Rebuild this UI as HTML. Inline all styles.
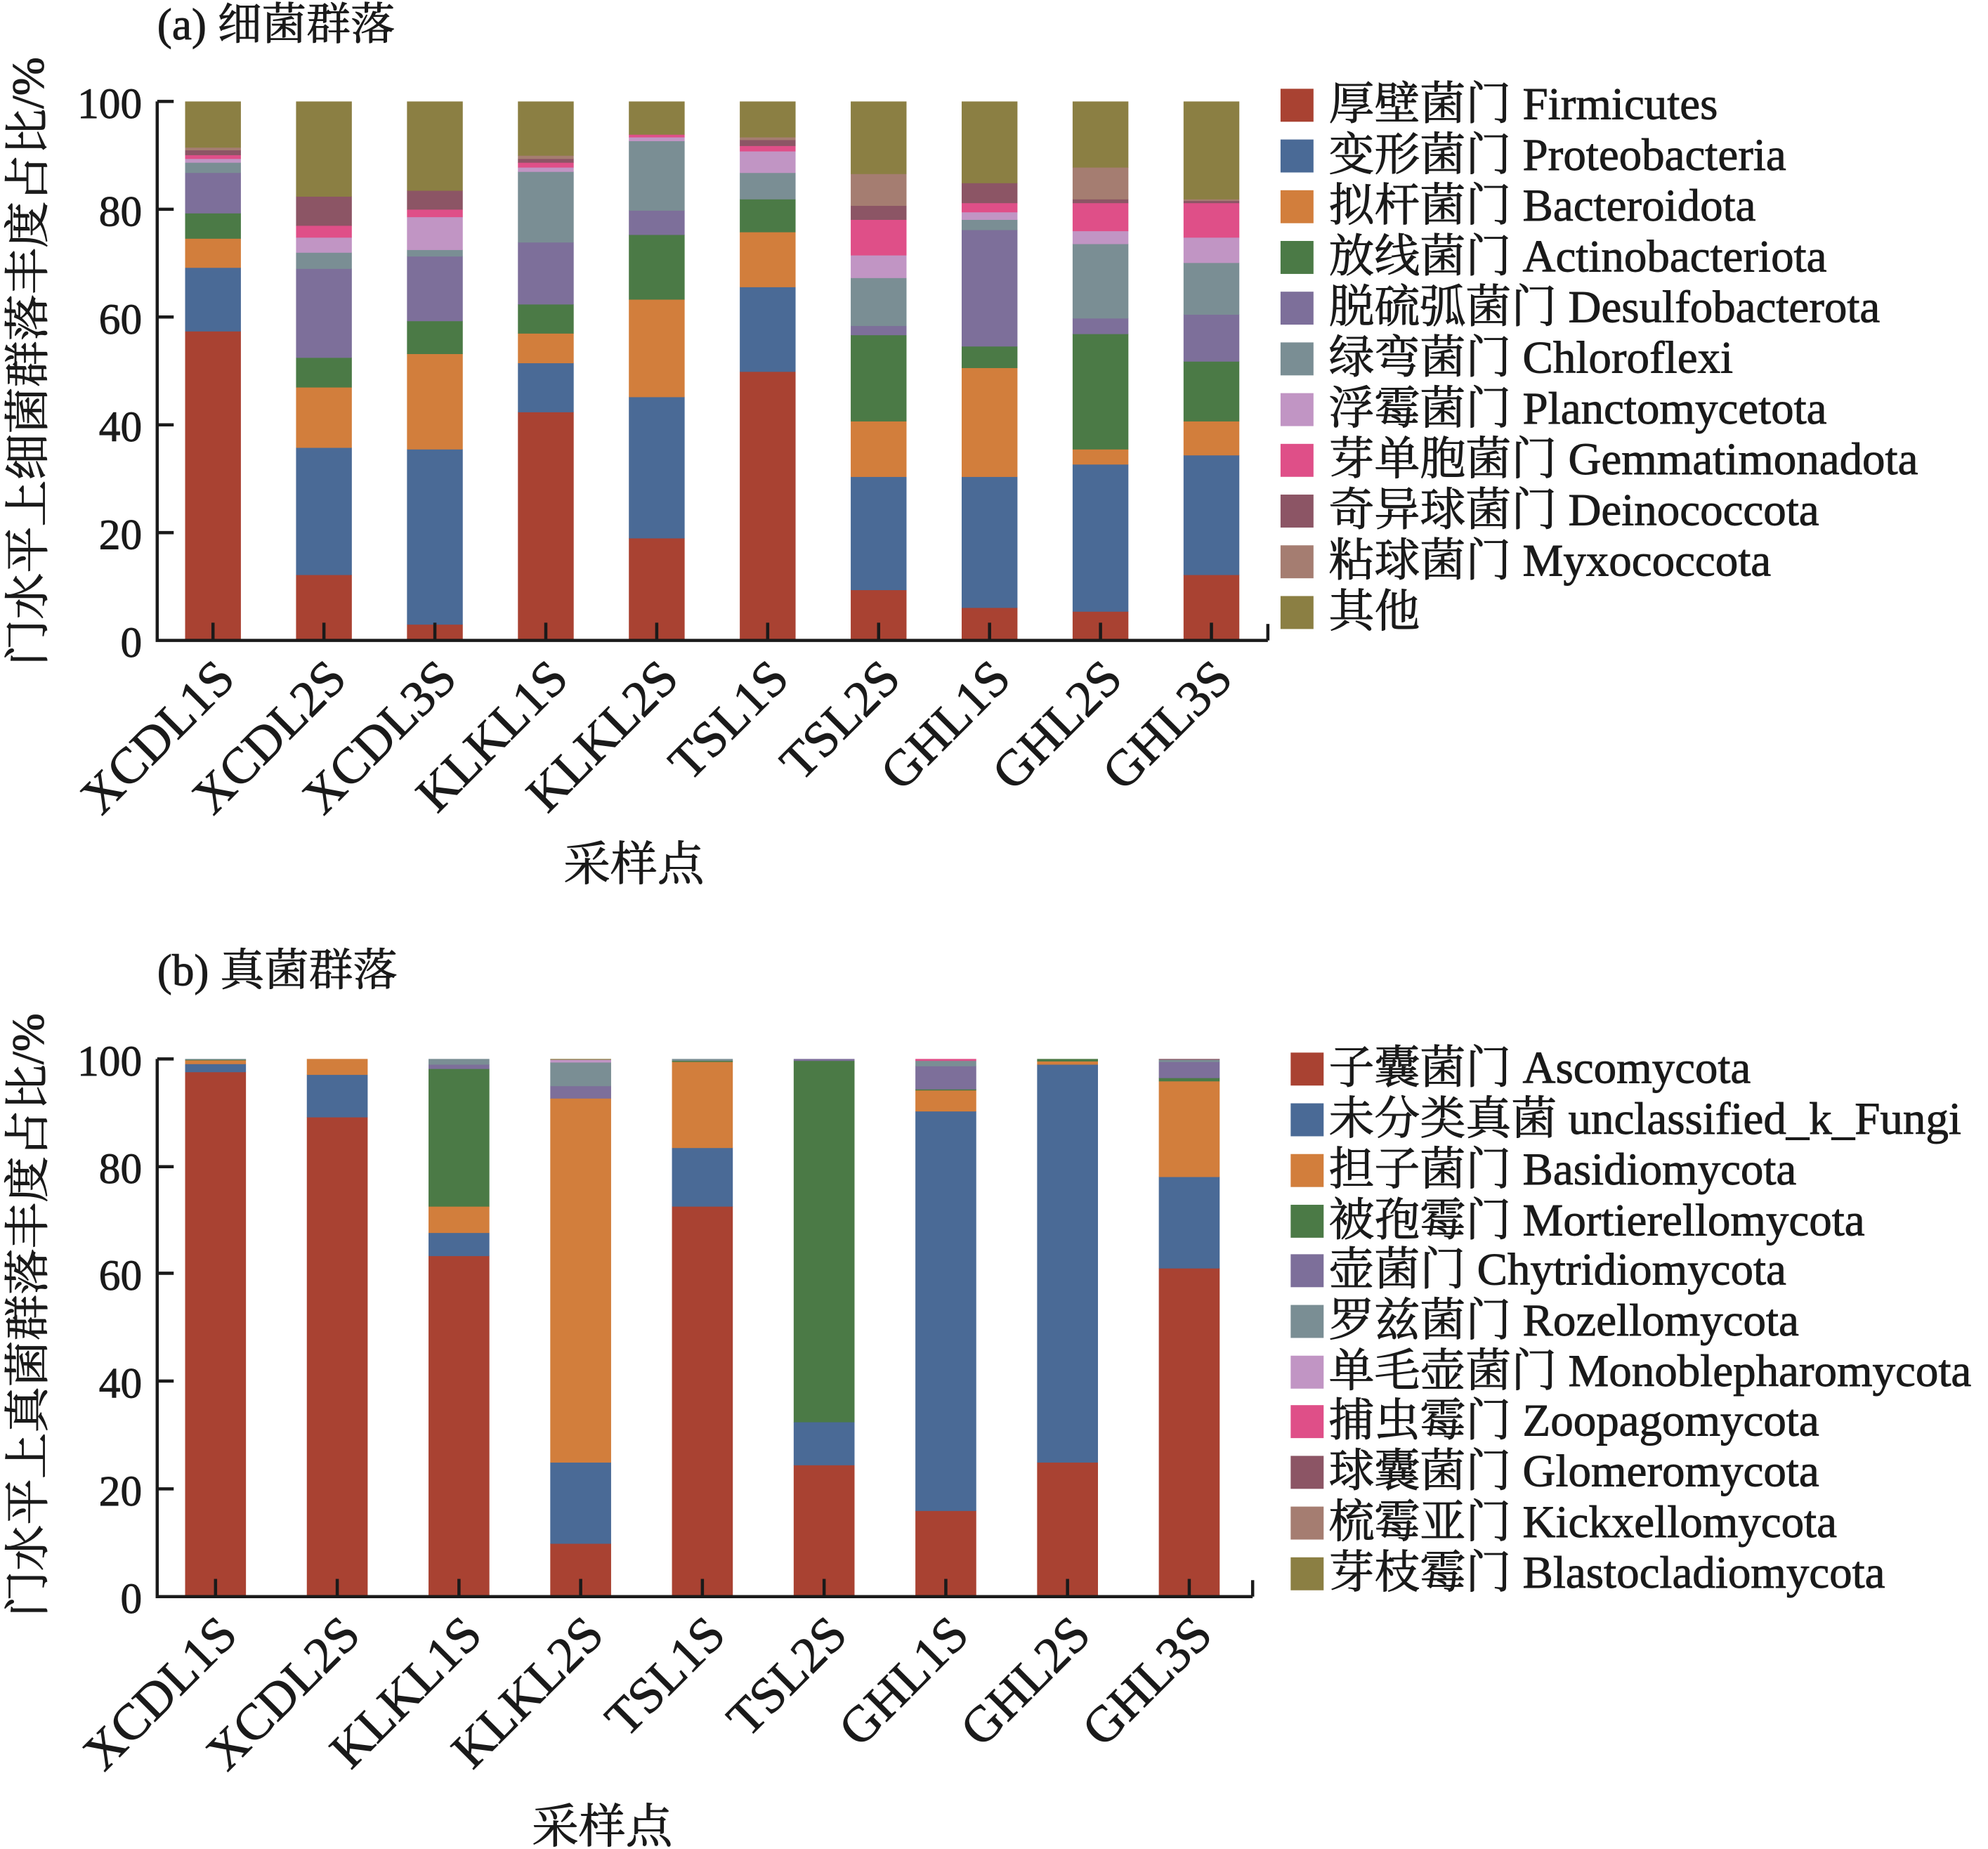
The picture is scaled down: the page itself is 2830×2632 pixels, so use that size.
<!DOCTYPE html>
<html><head><meta charset="utf-8"><style>
html,body{margin:0;padding:0;background:#fff}
svg{display:block}
text{font-family:"Liberation Serif","Noto Serif CJK SC","Noto Sans CJK SC",serif;fill:#1a1a1a;stroke:#1a1a1a;stroke-width:0.5}
</style></head><body>
<svg id="s" width="2830" height="2632" viewBox="0 0 1568 1458" preserveAspectRatio="none" xmlns="http://www.w3.org/2000/svg">
<g id="bars"></g>
<g stroke="#1a1a1a" stroke-width="2.5" fill="none">
<polyline points="124,80 124,505 1000,505"/>
<line x1="1000" y1="505" x2="1000" y2="492"/>
<line x1="124" y1="80" x2="137" y2="80"/><line x1="124" y1="165" x2="137" y2="165"/><line x1="124" y1="250" x2="137" y2="250"/><line x1="124" y1="335" x2="137" y2="335"/><line x1="124" y1="420" x2="137" y2="420"/>
<polyline points="124,835 124,1259 988,1259"/>
<line x1="988" y1="1259" x2="988" y2="1246"/>
<line x1="124" y1="835" x2="137" y2="835"/><line x1="124" y1="920" x2="137" y2="920"/><line x1="124" y1="1004" x2="137" y2="1004"/><line x1="124" y1="1089" x2="137" y2="1089"/><line x1="124" y1="1174" x2="137" y2="1174"/>
</g>
<g id="ticks" stroke="#1a1a1a" stroke-width="2.5"></g>
<text x="124" y="31" font-size="35">(a) 细菌群落</text>
<text x="124" y="777" font-size="35">(b) 真菌群落</text>
<g font-size="34" text-anchor="end">
<text x="112" y="93">100</text><text x="112" y="178">80</text><text x="112" y="263">60</text><text x="112" y="348">40</text><text x="112" y="433">20</text><text x="112" y="518">0</text>
<text x="112" y="848">100</text><text x="112" y="933">80</text><text x="112" y="1017">60</text><text x="112" y="1102">40</text><text x="112" y="1187">20</text><text x="112" y="1272">0</text>
</g>
<text font-size="36" text-anchor="middle" transform="translate(34,285) rotate(-90)" textLength="480" lengthAdjust="spacingAndGlyphs">门水平上细菌群落丰度占比/%</text>
<text font-size="36" text-anchor="middle" transform="translate(34,1037) rotate(-90)" textLength="476" lengthAdjust="spacingAndGlyphs">门水平上真菌群落丰度占比/%</text>
<text x="500" y="694" font-size="37" text-anchor="middle">采样点</text>
<text x="475" y="1453" font-size="37" text-anchor="middle">采样点</text>
<g font-size="40" text-anchor="end">
<text transform="translate(187,537) rotate(-45)">XCDL1S</text>
<text transform="translate(275,537) rotate(-45)">XCDL2S</text>
<text transform="translate(362,537) rotate(-45)">XCDL3S</text>
<text transform="translate(450,537) rotate(-45)">KLKL1S</text>
<text transform="translate(537,537) rotate(-45)">KLKL2S</text>
<text transform="translate(624,537) rotate(-45)">TSL1S</text>
<text transform="translate(712,537) rotate(-45)">TSL2S</text>
<text transform="translate(799,537) rotate(-45)">GHL1S</text>
<text transform="translate(887,537) rotate(-45)">GHL2S</text>
<text transform="translate(974,537) rotate(-45)">GHL3S</text>
<text transform="translate(189,1291) rotate(-45)">XCDL1S</text>
<text transform="translate(286,1291) rotate(-45)">XCDL2S</text>
<text transform="translate(382,1291) rotate(-45)">KLKL1S</text>
<text transform="translate(478,1291) rotate(-45)">KLKL2S</text>
<text transform="translate(574,1291) rotate(-45)">TSL1S</text>
<text transform="translate(670,1291) rotate(-45)">TSL2S</text>
<text transform="translate(766,1291) rotate(-45)">GHL1S</text>
<text transform="translate(862,1291) rotate(-45)">GHL2S</text>
<text transform="translate(958,1291) rotate(-45)">GHL3S</text>
</g>
<g font-size="36">
<rect x="1010" y="70" width="26" height="26" fill="#a94232"/><text x="1048" y="94">厚壁菌门 Firmicutes</text>
<rect x="1010" y="110" width="26" height="26" fill="#4a6a96"/><text x="1048" y="134">变形菌门 Proteobacteria</text>
<rect x="1010" y="150" width="26" height="26" fill="#d27e3c"/><text x="1048" y="174">拟杆菌门 Bacteroidota</text>
<rect x="1010" y="190" width="26" height="26" fill="#4b7a46"/><text x="1048" y="214">放线菌门 Actinobacteriota</text>
<rect x="1010" y="230" width="26" height="26" fill="#7d6f9a"/><text x="1048" y="254">脱硫弧菌门 Desulfobacterota</text>
<rect x="1010" y="270" width="26" height="26" fill="#7a8e94"/><text x="1048" y="294">绿弯菌门 Chloroflexi</text>
<rect x="1010" y="310" width="26" height="26" fill="#c195c4"/><text x="1048" y="334">浮霉菌门 Planctomycetota</text>
<rect x="1010" y="350" width="26" height="26" fill="#df4f88"/><text x="1048" y="374">芽单胞菌门 Gemmatimonadota</text>
<rect x="1010" y="390" width="26" height="26" fill="#8c5565"/><text x="1048" y="414">奇异球菌门 Deinococcota</text>
<rect x="1010" y="430" width="26" height="26" fill="#a57d71"/><text x="1048" y="454">粘球菌门 Myxococcota</text>
<rect x="1010" y="470" width="26" height="26" fill="#8b7f43"/><text x="1048" y="494">其他</text>
<rect x="1018" y="830" width="26" height="26" fill="#a94232"/><text x="1048" y="854">子囊菌门 Ascomycota</text>
<rect x="1018" y="870" width="26" height="26" fill="#4a6a96"/><text x="1048" y="894">未分类真菌 unclassified_k_Fungi</text>
<rect x="1018" y="910" width="26" height="26" fill="#d27e3c"/><text x="1048" y="934">担子菌门 Basidiomycota</text>
<rect x="1018" y="950" width="26" height="26" fill="#4b7a46"/><text x="1048" y="974">被孢霉门 Mortierellomycota</text>
<rect x="1018" y="989" width="26" height="26" fill="#7d6f9a"/><text x="1048" y="1013">壶菌门 Chytridiomycota</text>
<rect x="1018" y="1029" width="26" height="26" fill="#7a8e94"/><text x="1048" y="1053">罗兹菌门 Rozellomycota</text>
<rect x="1018" y="1069" width="26" height="26" fill="#c195c4"/><text x="1048" y="1093">单毛壶菌门 Monoblepharomycota</text>
<rect x="1018" y="1108" width="26" height="26" fill="#df4f88"/><text x="1048" y="1132">捕虫霉门 Zoopagomycota</text>
<rect x="1018" y="1148" width="26" height="26" fill="#8c5565"/><text x="1048" y="1172">球囊菌门 Glomeromycota</text>
<rect x="1018" y="1188" width="26" height="26" fill="#a57d71"/><text x="1048" y="1212">梳霉亚门 Kickxellomycota</text>
<rect x="1018" y="1228" width="26" height="26" fill="#8b7f43"/><text x="1048" y="1252">芽枝霉门 Blastocladiomycota</text>
</g>
</svg>
<script>
var C=["#a94232","#4a6a96","#d27e3c","#4b7a46","#7d6f9a","#7a8e94","#c195c4","#df4f88","#8c5565","#a57d71","#8b7f43"];
var A=[[57.4,69.2,74.6,79.3,86.8,88.7,89.4,90.1,91,91.5,100],
[12.2,35.8,47,52.5,69,72,74.8,77,82.4,82.4,100],
[3,35.5,53.2,59.3,71.3,72.5,78.6,80,83.5,83.5,100],
[42.4,51.5,57,62.4,73.9,87,87.8,88.7,89.4,90,100],
[19,45.2,63.3,75.3,79.8,92.7,93.4,93.9,93.9,93.9,100],
[49.9,65.6,75.8,81.9,81.9,86.8,90.8,91.8,92.9,93.4,100],
[9.4,30.4,40.7,56.7,58.4,67.3,71.5,78.1,80.7,86.6,100],
[6.1,30.4,50.6,54.6,76.2,78.1,79.5,81.2,84.9,84.9,100],
[5.4,32.7,35.5,56.9,59.8,73.6,76,81.2,81.9,87.8,100],
[12.2,34.4,40.7,51.8,60.5,70.1,74.8,81.2,81.6,81.9,100]];
var B=[[97.6,99.1,99.8,99.9,99.9,100,100,100,100,100,100],
[89.2,97.1,100,100,100,100,100,100,100,100,100],
[63.4,67.7,72.6,98.2,99,100,100,100,100,100,100],
[9.9,25,92.7,92.7,95,99.4,99.9,99.9,99.9,99.9,100],
[72.6,83.5,99.5,99.7,99.7,100,100,100,100,100,100],
[24.5,32.5,32.5,99.7,100,100,100,100,100,100,100],
[16,90.3,94.2,94.4,98.7,99.7,99.7,100,100,100,100],
[25,99,99.6,100,100,100,100,100,100,100,100],
[61.1,78.1,95.9,96.5,99.5,99.9,99.9,99.9,100,100,100]];
var g=document.getElementById("bars"),t=document.getElementById("ticks"),ns="http://www.w3.org/2000/svg";
function draw(D,x0,dx,w,y0,k){D.forEach(function(b,i){var cx=x0+i*dx,prev=0;b.forEach(function(v,j){if(v>prev){var r=document.createElementNS(ns,"rect");r.setAttribute("x",cx-w/2);r.setAttribute("width",w);r.setAttribute("y",y0-v*k);r.setAttribute("height",(v-prev)*k+0.3);r.setAttribute("fill",C[j]);g.appendChild(r);}prev=Math.max(prev,v);});var l=document.createElementNS(ns,"line");l.setAttribute("x1",cx);l.setAttribute("x2",cx);l.setAttribute("y1",y0);l.setAttribute("y2",y0-14);t.appendChild(l);});}
draw(A,168,87.5,44,505,4.25);
draw(B,170,96,48,1259,4.24);
</script>
</body></html>
